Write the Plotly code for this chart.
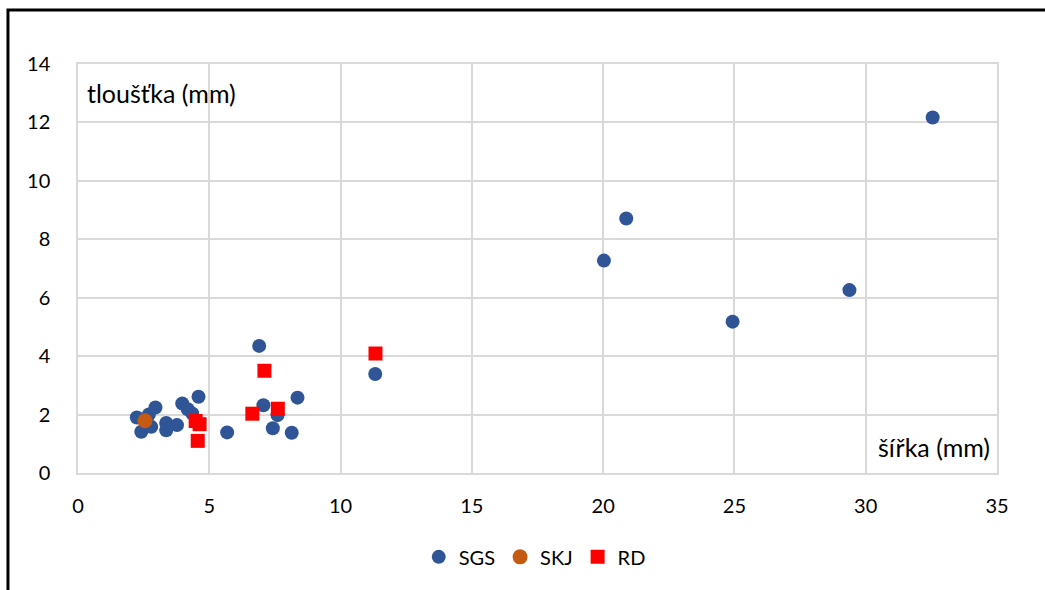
import plotly.graph_objects as go

# šířka / tloušťka measurements (mm) per group
sgs_x = [2.24, 2.41, 2.70, 2.79, 2.95, 3.36, 3.36, 3.77, 3.97, 4.18, 4.35, 4.59,
         5.68, 6.90, 7.06, 7.42, 7.60, 8.14, 8.36, 11.32,
         20.03, 20.88, 24.93, 29.38, 32.55]
sgs_y = [1.90, 1.41, 2.00, 1.58, 2.24, 1.71, 1.46, 1.64, 2.38, 2.18, 2.04, 2.61,
         1.39, 4.35, 2.32, 1.53, 1.98, 1.38, 2.58, 3.39,
         7.27, 8.71, 5.18, 6.26, 12.17]

skj_x = [2.55]
skj_y = [1.79]

rd_x = [4.48, 4.63, 4.56, 6.64, 7.10, 7.61, 11.33]
rd_y = [1.78, 1.67, 1.10, 2.03, 3.50, 2.20, 4.09]

x_ticks = [0, 5, 10, 15, 20, 25, 30, 35]
y_ticks = [0, 2, 4, 6, 8, 10, 12, 14]

FONT = "Lato"

fig = go.Figure()
fig.add_trace(go.Scatter(x=sgs_x, y=sgs_y, mode="markers", name="SGS",
                         marker=dict(symbol="circle", size=14, color="#2F5597")))
fig.add_trace(go.Scatter(x=skj_x, y=skj_y, mode="markers", name="SKJ",
                         marker=dict(symbol="circle", size=15, color="#C55A11")))
fig.add_trace(go.Scatter(x=rd_x, y=rd_y, mode="markers", name="RD",
                         marker=dict(symbol="square", size=14, color="#FF0000")))

fig.update_layout(
    width=1045, height=590,
    margin=dict(l=78, r=48, t=64, b=117),
    paper_bgcolor="white", plot_bgcolor="white",
    font=dict(family=FONT, size=20, color="#000000"),
    showlegend=True,
    legend=dict(orientation="h", x=0.497, xanchor="center", y=-0.205, yanchor="middle",
                font=dict(family=FONT, size=20), itemwidth=30,
                traceorder="normal"),
    xaxis=dict(range=[0, 35], tickvals=x_ticks, showgrid=True, gridcolor="#D9D9D9",
               gridwidth=1.5, zeroline=False, showline=True, linecolor="#D9D9D9",
               linewidth=1.5, mirror=True, ticks="", ticklabelstandoff=14,
               tickfont=dict(family=FONT, size=20)),
    yaxis=dict(range=[0, 14], tickvals=y_ticks, showgrid=True, gridcolor="#D9D9D9",
               gridwidth=1.5, zeroline=False, showline=True, linecolor="#D9D9D9",
               linewidth=1.5, mirror=True, ticks="", ticklabelstandoff=22,
               tickfont=dict(family=FONT, size=20)),
    annotations=[
        dict(text="tloušťka (mm)", xref="paper", yref="paper", x=0.008, y=0.93,
             xanchor="left", yanchor="middle", showarrow=False,
             font=dict(family=FONT, size=25)),
        dict(text="šířka (mm)", xref="paper", yref="paper", x=0.995, y=0.063,
             xanchor="right", yanchor="middle", showarrow=False,
             font=dict(family=FONT, size=25)),
    ],
    shapes=[
        dict(type="rect", xref="paper", yref="paper", x0=-0.0762, x1=1.08,
             y0=-0.4, y1=1.132, line=dict(color="black", width=3), layer="above"),
    ],
)

fig.write_html("out.html")
